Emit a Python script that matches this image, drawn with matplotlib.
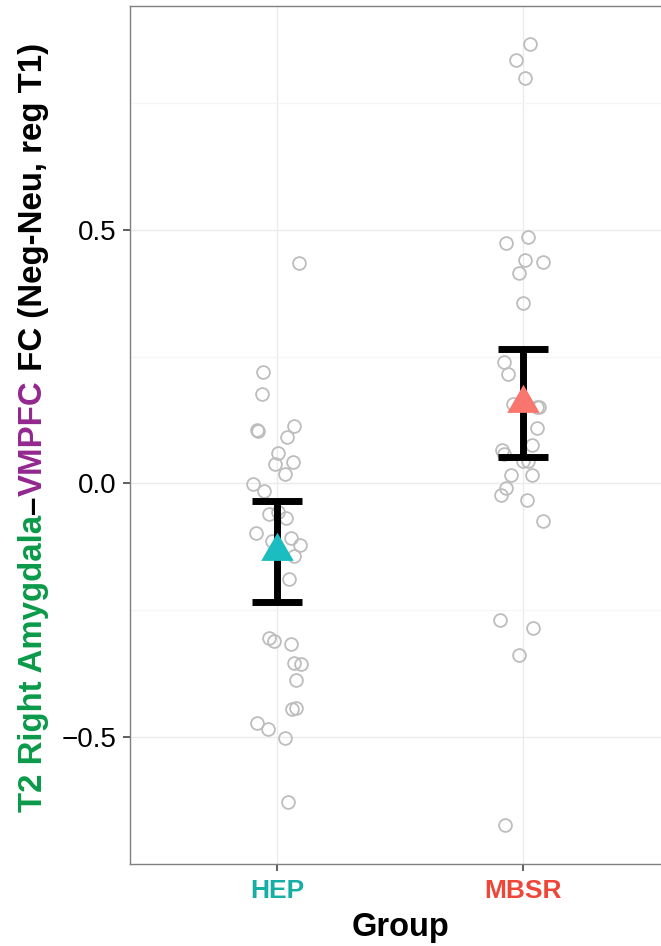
import numpy as np
import matplotlib
matplotlib.use("Agg")
import matplotlib.pyplot as plt
from matplotlib.path import Path

plt.rcParams["font.family"] = ["Liberation Sans", "DejaVu Sans"]

groups = ["HEP", "MBSR"]
group_colors = ["#1BBDC1", "#F8766D"]
label_colors = ["#17AEA6", "#EE4638"]

# individual scores per group, with the horizontal jitter used when plotted
hep_vals = [0.435, 0.219, 0.177, 0.106, 0.103, 0.113, 0.091, 0.060, 0.039, 0.043,
            0.018, -0.001, -0.015, -0.060, -0.056, -0.069, -0.097, -0.114, -0.107,
            -0.122, -0.142, -0.188, -0.304, -0.310, -0.316, -0.354, -0.355, -0.387,
            -0.445, -0.443, -0.473, -0.484, -0.502, -0.628]
hep_jit = [0.088, -0.060, -0.064, -0.082, -0.078, 0.066, 0.037, 0.003, -0.011, 0.063,
           0.031, -0.101, -0.054, -0.033, 0.003, 0.035, -0.089, -0.024, 0.054,
           0.092, 0.068, 0.048, -0.033, -0.013, 0.055, 0.067, 0.094, 0.074,
           0.060, 0.076, -0.085, -0.039, 0.032, 0.043]
mbsr_vals = [0.866, 0.835, 0.799, 0.486, 0.474, 0.440, 0.436, 0.415, 0.356, 0.239,
             0.216, 0.156, 0.151, 0.150, 0.110, 0.075, 0.066, 0.059, 0.044, 0.044,
             0.016, 0.016, -0.008, -0.022, -0.032, -0.074, -0.269, -0.285, -0.339,
             -0.673]
mbsr_jit = [0.029, -0.030, 0.007, 0.019, -0.072, 0.006, 0.079, -0.019, 0.000, -0.080,
            -0.062, -0.042, 0.054, 0.065, 0.057, 0.034, -0.087, -0.077, 0.000, 0.019,
            -0.052, 0.036, -0.072, -0.091, 0.015, 0.081, -0.093, 0.040, -0.019,
            -0.075]

# group means and standard errors
means = [-0.134, 0.1585]
ses = [0.0995, 0.1065]

W, H = 661, 946
fig = plt.figure(figsize=(W / 100, H / 100), dpi=100)
fig.patch.set_facecolor("white")

# panel: left edge at 130 px, runs past the right edge of the figure
ax = fig.add_axes([130 / W, (H - 864) / H, 540.8 / W, (864 - 6) / H])
ax.set_xlim(0.4, 2.6)
ax.set_ylim(-0.750, 0.941)

ax.set_yticks([-0.5, 0.0, 0.5])
ax.set_yticks([-0.25, 0.25, 0.75], minor=True)
ax.set_xticks([1, 2])
ax.set_xticklabels(groups)
ax.grid(True, which="major", color="#EBEBEB", lw=1.0)
ax.grid(True, which="minor", axis="y", color="#F5F5F5", lw=1.0)
ax.set_axisbelow(True)

for s in ["left", "bottom", "top"]:
    ax.spines[s].set_color("#7F7F7F")
    ax.spines[s].set_linewidth(1.0)
ax.spines["right"].set_visible(False)

ax.tick_params(axis="y", which="major", length=5, width=1.1, color="#333333",
               labelsize=20, pad=5, labelcolor="black")
ax.tick_params(axis="y", which="minor", length=0)
ax.tick_params(axis="x", length=5, width=1.1, color="#333333", labelsize=19, pad=6)
for lab, c in zip(ax.get_xticklabels(), label_colors):
    lab.set_color(c)
    lab.set_fontweight("bold")

# jittered raw points
for i, (vals, jit) in enumerate([(hep_vals, hep_jit), (mbsr_vals, mbsr_jit)]):
    x = np.full(len(vals), i + 1.0) + np.array(jit)
    ax.plot(x, vals, "o", ms=9.2, mfc="none", mec="#BDBDBD", mew=1.3, zorder=2)

# error bars (mean +/- se)
ax.errorbar([1, 2], means, yerr=ses, fmt="none", ecolor="black",
            elinewidth=5, capsize=18, capthick=5, zorder=3)

# equilateral triangle centred on its centroid
tri = Path([(0, 0.577), (-0.5, -0.289), (0.5, -0.289), (0, 0.577)],
           [Path.MOVETO, Path.LINETO, Path.LINETO, Path.CLOSEPOLY])
for i, (m, c) in enumerate(zip(means, group_colors)):
    ax.plot([i + 1], [m], marker=tri, ms=27, color=c, mec="none", ls="none", zorder=4)

ax.set_xlabel("Group", fontsize=23.5, fontweight="bold", labelpad=6)

# multi-coloured y axis title, drawn piece by piece bottom to top
pieces = [("T2 Right Amygdala", "#0A9A48"), ("\u2013", "black"),
          ("VMPFC", "#93278F"), (" FC (Neg-Neu, reg T1)", "black")]
renderer = fig.canvas.get_renderer()
prop = matplotlib.font_manager.FontProperties(family=["Liberation Sans"],
                                              weight="bold", size=23.8)
widths = [renderer.get_text_width_height_descent(t, prop, ismath=False)[0]
          for t, _ in pieces]
center_y = H - (43 + 812) / 2
y0 = center_y - sum(widths) / 2
x_base = 42
for (t, c), w in zip(pieces, widths):
    fig.text(x_base / W, y0 / H, t, color=c, fontproperties=prop, rotation=90,
             rotation_mode="anchor", ha="left", va="baseline")
    y0 += w

fig.savefig("out.png", dpi=100)
